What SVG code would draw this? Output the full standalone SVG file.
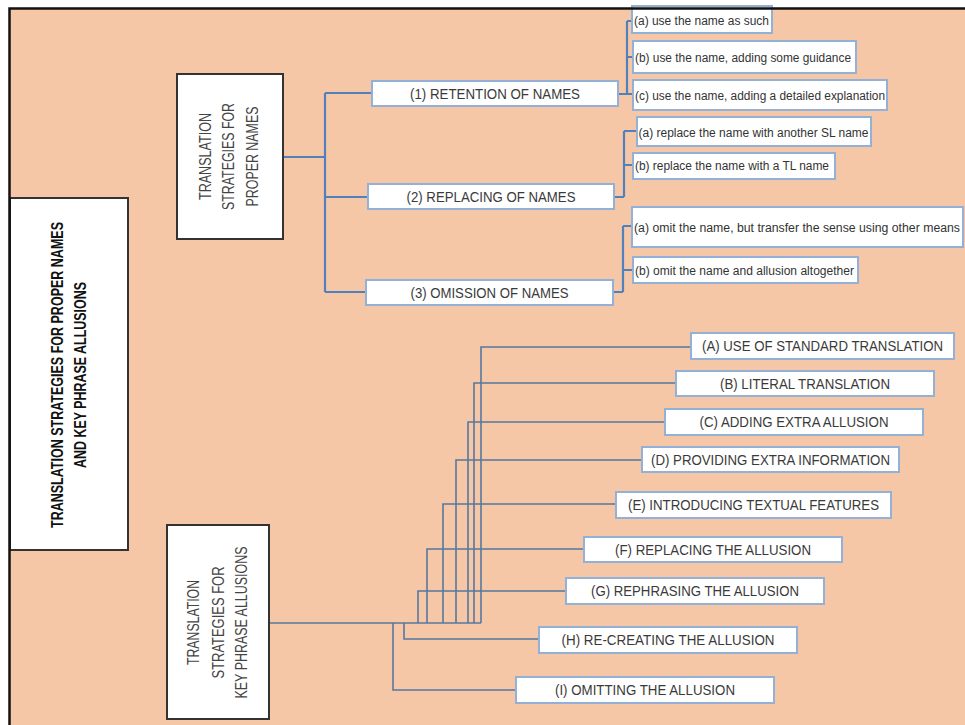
<svg xmlns="http://www.w3.org/2000/svg" width="965" height="725" viewBox="0 0 965 725">
<style>
.bg{fill:#f6c7a7}
.frame{stroke:#111;stroke-width:2.5;fill:none}
.dark{fill:#fff;stroke:#333;stroke-width:2}
.box{fill:#fff;stroke:#93b1d6;stroke-width:2}
.lbl{font-family:"Liberation Sans",Arial,sans-serif;font-size:14px;fill:#3a3a3a;text-anchor:middle}
.sub{font-family:"Liberation Sans",Arial,sans-serif;font-size:12.5px;fill:#333}
.rot{font-family:"Liberation Sans",Arial,sans-serif;font-size:16px;fill:#444;text-anchor:middle}
.title{font-family:"Liberation Sans",Arial,sans-serif;font-size:16px;font-weight:bold;fill:#111;text-anchor:middle}
.c1{stroke:#4f81bd;stroke-width:2.2;fill:none}
.c2{stroke:#56789f;stroke-width:1.6;fill:none}
</style>
<rect x="0" y="0" width="965" height="725" fill="#fff"/>
<rect class="bg" x="9" y="8" width="956" height="717"/>

<g id="connectors">
  <path class="c1" d="M283,157 H325 M325,93 V292 M325,93 H372 M325,197 H368 M325,292 H366"/>
  <path class="c1" d="M618,94 H627 M627,21 V94 M627,21 H633 M627,57 H633 M627,94 H633"/>
  <path class="c1" d="M614,197 H624 M624,131 V197 M624,131 H637 M624,165 H633"/>
  <path class="c1" d="M613,292 H623 M623,226 V292 M623,226 H632 M623,270 H633"/>
  <path class="c2" d="M269,623 H481"/>
  <path class="c2" d="M481,623 V347 H691"/>
  <path class="c2" d="M474,623 V383 H676"/>
  <path class="c2" d="M468,623 V422 H665"/>
  <path class="c2" d="M456,623 V460 H642"/>
  <path class="c2" d="M443,623 V504 H616"/>
  <path class="c2" d="M427,623 V549 H584"/>
  <path class="c2" d="M418,623 V591 H566"/>
  <path class="c2" d="M404,623 V639 H539"/>
  <path class="c2" d="M393,623 V690 H516"/>
</g>

<g id="main">
  <rect class="dark" x="10" y="198" width="118" height="352"/>
  <text class="title" transform="translate(62.5,375) rotate(-90)" textLength="306" lengthAdjust="spacingAndGlyphs">TRANSLATION STRATEGIES FOR PROPER NAMES</text>
  <text class="title" transform="translate(85.5,375) rotate(-90)" textLength="186" lengthAdjust="spacingAndGlyphs">AND KEY PHRASE ALLUSIONS</text>
</g>

<g id="proper-names">
  <rect class="dark" x="177" y="74" width="106" height="165"/>
  <text class="rot" transform="translate(210.5,156.5) rotate(-90)" textLength="87" lengthAdjust="spacingAndGlyphs">TRANSLATION</text>
  <text class="rot" transform="translate(233.5,156.5) rotate(-90)" textLength="107" lengthAdjust="spacingAndGlyphs">STRATEGIES FOR</text>
  <text class="rot" transform="translate(257.5,156.5) rotate(-90)" textLength="100" lengthAdjust="spacingAndGlyphs">PROPER NAMES</text>
</g>

<g id="key-phrase">
  <rect class="dark" x="167" y="525" width="102" height="194"/>
  <text class="rot" transform="translate(198.5,622.5) rotate(-90)" textLength="85" lengthAdjust="spacingAndGlyphs">TRANSLATION</text>
  <text class="rot" transform="translate(223.5,622.5) rotate(-90)" textLength="112" lengthAdjust="spacingAndGlyphs">STRATEGIES FOR</text>
  <text class="rot" transform="translate(246.5,622.5) rotate(-90)" textLength="152" lengthAdjust="spacingAndGlyphs">KEY PHRASE ALLUSIONS</text>
</g>

<g id="retention">
  <rect class="box" x="372" y="81" width="246" height="25"/>
  <text class="lbl" x="495" y="98.5" textLength="170" lengthAdjust="spacingAndGlyphs">(1) RETENTION OF NAMES</text>
</g>
<g id="replacing">
  <rect class="box" x="368" y="184" width="246" height="25"/>
  <text class="lbl" x="491" y="201.5" textLength="169" lengthAdjust="spacingAndGlyphs">(2) REPLACING OF NAMES</text>
</g>
<g id="omission">
  <rect class="box" x="366" y="280" width="247" height="25"/>
  <text class="lbl" x="489.5" y="297.5" textLength="158" lengthAdjust="spacingAndGlyphs">(3) OMISSION OF NAMES</text>
</g>

<g id="ret-a">
  <rect class="box" x="632" y="6" width="140" height="27"/>
  <text class="sub" x="634" y="24.5" textLength="135" lengthAdjust="spacingAndGlyphs">(a) use the name as such</text>
</g>
<g id="ret-b">
  <rect class="box" x="633" y="41" width="223" height="32"/>
  <text class="sub" x="635" y="61.5" textLength="216" lengthAdjust="spacingAndGlyphs">(b) use the name, adding some guidance</text>
</g>
<g id="ret-c">
  <rect class="box" x="633" y="80" width="254" height="30"/>
  <text class="sub" x="635" y="99.5" textLength="250" lengthAdjust="spacingAndGlyphs">(c) use the name, adding a detailed explanation</text>
</g>
<g id="rep-a">
  <rect class="box" x="637" y="117" width="234" height="29"/>
  <text class="sub" x="638.5" y="136.5" textLength="230" lengthAdjust="spacingAndGlyphs">(a) replace the name with another SL name</text>
</g>
<g id="rep-b">
  <rect class="box" x="633" y="153" width="202" height="26"/>
  <text class="sub" x="635" y="169.5" textLength="194" lengthAdjust="spacingAndGlyphs">(b) replace the name with a TL name</text>
</g>
<g id="omi-a">
  <rect class="box" x="632" y="207" width="331" height="40"/>
  <text class="sub" x="634" y="231.5" textLength="326" lengthAdjust="spacingAndGlyphs">(a) omit the name, but transfer the sense using other means</text>
</g>
<g id="omi-b">
  <rect class="box" x="633" y="257" width="225" height="26"/>
  <text class="sub" x="635" y="274.5" textLength="219" lengthAdjust="spacingAndGlyphs">(b) omit the name and allusion altogether</text>
</g>

<g id="kp-a">
  <rect class="box" x="691" y="333" width="263" height="26"/>
  <text class="lbl" x="822.5" y="351" textLength="241" lengthAdjust="spacingAndGlyphs">(A) USE OF STANDARD TRANSLATION</text>
</g>
<g id="kp-b">
  <rect class="box" x="676" y="371" width="258" height="25"/>
  <text class="lbl" x="805" y="388.5" textLength="170" lengthAdjust="spacingAndGlyphs">(B) LITERAL TRANSLATION</text>
</g>
<g id="kp-c">
  <rect class="box" x="665" y="409" width="258" height="26"/>
  <text class="lbl" x="794" y="427" textLength="189" lengthAdjust="spacingAndGlyphs">(C) ADDING EXTRA ALLUSION</text>
</g>
<g id="kp-d">
  <rect class="box" x="642" y="447" width="257" height="25"/>
  <text class="lbl" x="770.5" y="464.5" textLength="239" lengthAdjust="spacingAndGlyphs">(D) PROVIDING EXTRA INFORMATION</text>
</g>
<g id="kp-e">
  <rect class="box" x="616" y="492" width="275" height="26"/>
  <text class="lbl" x="753.5" y="510" textLength="251" lengthAdjust="spacingAndGlyphs">(E) INTRODUCING TEXTUAL FEATURES</text>
</g>
<g id="kp-f">
  <rect class="box" x="584" y="537" width="258" height="25"/>
  <text class="lbl" x="713" y="554.5" textLength="196" lengthAdjust="spacingAndGlyphs">(F) REPLACING THE ALLUSION</text>
</g>
<g id="kp-g">
  <rect class="box" x="566" y="578" width="258" height="26"/>
  <text class="lbl" x="695" y="596" textLength="208" lengthAdjust="spacingAndGlyphs">(G) REPHRASING THE ALLUSION</text>
</g>
<g id="kp-h">
  <rect class="box" x="539" y="627" width="258" height="26"/>
  <text class="lbl" x="668" y="645" textLength="213" lengthAdjust="spacingAndGlyphs">(H) RE-CREATING THE ALLUSION</text>
</g>
<g id="kp-i">
  <rect class="box" x="516" y="677" width="258" height="26"/>
  <text class="lbl" x="645" y="695" textLength="180" lengthAdjust="spacingAndGlyphs">(I) OMITTING THE ALLUSION</text>
</g>

<path class="frame" d="M9.5,725 V8.5 H965"/>
</svg>
